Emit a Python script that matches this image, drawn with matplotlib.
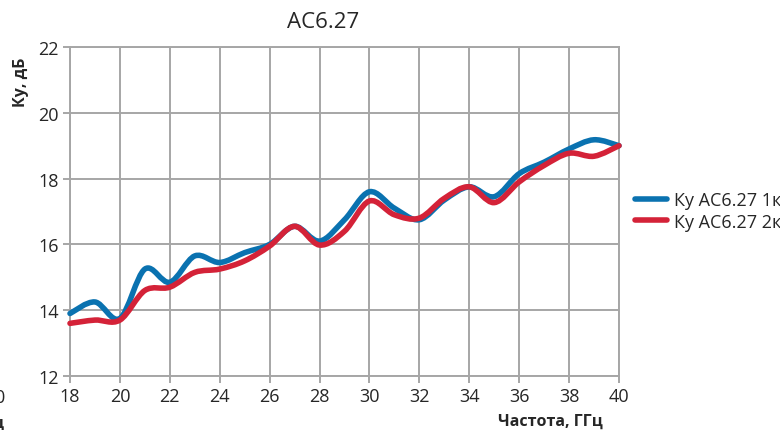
import numpy as np
import matplotlib.pyplot as plt
from matplotlib.path import Path
from matplotlib.patches import PathPatch
from matplotlib.lines import Line2D

plt.rcParams['font.family'] = ['Open Sans', 'DejaVu Sans']

# frequency, GHz
freq = [18, 19, 20, 21, 22, 23, 24, 25, 26, 27, 28, 29, 30,
        31, 32, 33, 34, 35, 36, 37, 38, 39, 40]
# gain, dB
ku_1k = [13.9, 14.25, 13.75, 15.25, 14.85, 15.65, 15.45, 15.75, 16.0, 16.55, 16.1, 16.75, 17.6,
         17.1, 16.75, 17.35, 17.75, 17.45, 18.15, 18.5, 18.9, 19.18, 19.0]
ku_2k = [13.6, 13.7, 13.7, 14.6, 14.7, 15.15, 15.25, 15.5, 15.95, 16.55, 15.98, 16.4, 17.32,
         16.9, 16.8, 17.4, 17.75, 17.27, 17.9, 18.4, 18.77, 18.68, 19.0]
labels = ['Ку АС6.27 1к', 'Ку АС6.27 2к']
colors = ['#0a72b0', '#d42238']


def smooth_path(x, y):
    # Excel-like smoothed line: cubic bezier segments through the points
    p = np.column_stack([x, y]).astype(float)
    n = len(p)
    verts = [p[0]]
    codes = [Path.MOVETO]
    for i in range(n - 1):
        p0 = p[i - 1] if i > 0 else p[i]
        p3 = p[i + 2] if i + 2 < n else p[i + 1]
        c1 = p[i] + (p[i + 1] - p0) / 6.0
        c2 = p[i + 1] - (p3 - p[i]) / 6.0
        verts += [c1, c2, p[i + 1]]
        codes += [Path.CURVE4] * 3
    return Path(verts, codes)


fig = plt.figure(figsize=(7.8, 4.31), dpi=100)
ax = fig.add_axes([70 / 780, 1 - 377 / 431, 549 / 780, 329 / 431])

for ys, c in zip([ku_1k, ku_2k], colors):
    patch = PathPatch(smooth_path(freq, ys), facecolor='none', edgecolor=c,
                      lw=4.0, capstyle='round', joinstyle='round', clip_on=False, zorder=3)
    ax.add_patch(patch)

ax.set_xlim(18, 40)
ax.set_ylim(12, 22)
ax.set_xticks(range(18, 41, 2))
ax.set_yticks(range(12, 23, 2))
ax.grid(True, color='#a6a6a6', lw=1.4)
for s in ax.spines.values():
    s.set_color('#a6a6a6')
    s.set_linewidth(1.4)
ax.tick_params(colors='#a6a6a6', labelcolor='#262626', labelsize=13, length=5, width=1.4, pad=3)

fig.text(323 / 780, 1 - 23 / 431, 'АС6.27', ha='center', va='center', fontsize=16, color='#262626')
fig.text(21 / 780, 1 - 82 / 431, 'Ку, дБ', ha='center', va='center', rotation=90,
         fontsize=11.5, fontweight='bold', color='#262626')
fig.text(603 / 780, 1 - 422 / 431, 'Частота, ГГц', ha='right', va='center',
         fontsize=11.5, fontweight='bold', color='#262626')
# edges of the neighbouring chart
fig.text(4 / 780, 1 - 398 / 431, '0', ha='right', va='center', fontsize=13, color='#262626')
fig.text(4 / 780, 1 - 424 / 431, 'ц', ha='right', va='center', fontsize=11.5,
         fontweight='bold', color='#262626')

handles = [Line2D([], [], color=c, lw=4.0, solid_capstyle='round') for c in colors]
fig.legend(handles, labels, loc='center left', bbox_to_anchor=(626 / 780, 1 - 212 / 431),
           frameon=False, fontsize=13, handlelength=1.75, handletextpad=0.4,
           labelspacing=0.2, labelcolor='#262626', borderpad=0)

fig.savefig('out.png', dpi=100)
